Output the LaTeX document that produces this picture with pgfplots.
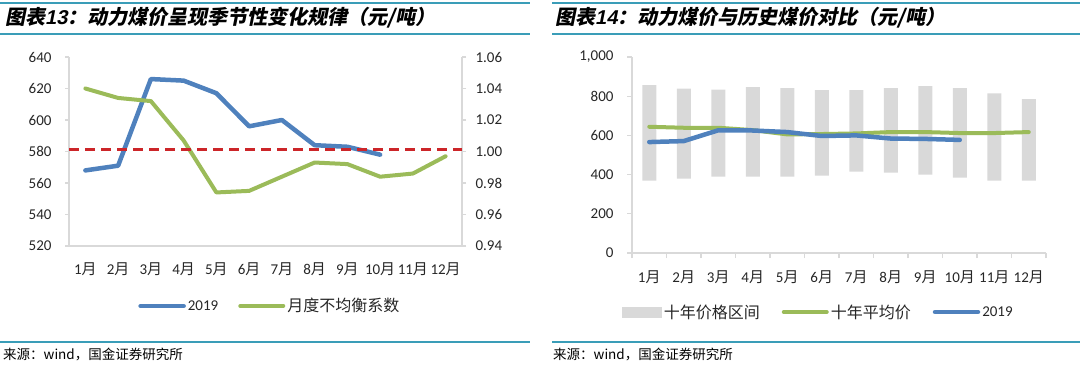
\documentclass[border=0pt]{standalone}
\usepackage{fontspec}
\usepackage{pgfplots}
\usepackage{pgfplotstable}
\pgfplotsset{compat=1.18}
\setmainfont{Carlito}
\newfontfamily\cjk{Noto Sans CJK SC}
\newfontfamily\cjkt[FakeSlant=0.2]{Noto Sans CJK SC}
\newfontfamily\ttl[FakeSlant=0.2]{Liberation Sans}
\newcommand\yue{{\cjk 月}}
\definecolor{cblue}{HTML}{4F81BD}
\definecolor{cgreen}{HTML}{9BBB59}
\definecolor{cred}{HTML}{CC2529}
\definecolor{axgray}{HTML}{D9D9D9}
\definecolor{bargray}{HTML}{D9D9D9}
\definecolor{tealc}{HTML}{3A9DB8}
\definecolor{txt}{HTML}{262626}

\pgfplotstableread{
x low high avg
1 369 856 644
2 380 839 639
3 390 834 639
4 390 846 627
5 390 841 605
6 395 831 607
7 415 831 610
8 410 841 617
9 400 851 617
10 385 841 612
11 369 815 612
12 369 785 617
}\hist

\pgfplotsset{
  common/.style={
    scale only axis, anchor=south west,
    xmin=0.5, xmax=12.5,
    axis line style={axgray, line width=1.5pt, -},
    tick label style={font=\fontsize{15}{18}\selectfont, text=txt},
    /pgf/number format/assume math mode=true,
    major tick length=4pt, tick align=outside,
    tick style={axgray, line width=1.2pt},
    scaled y ticks=false,
    legend columns=-1,
    legend image code/.code={\draw[##1] (0pt,0pt) -- (43pt,0pt);},
  },
}

\begin{document}
\begin{tikzpicture}
\useasboundingbox (0pt,0pt) rectangle (1080pt,368pt);
% frame lines
\draw[tealc, line width=1.5pt] (0pt,365pt) -- (530pt,365pt);
\draw[tealc, line width=1.5pt] (0pt,334pt) -- (530pt,334pt);
\draw[tealc, line width=1.5pt] (0pt,26pt) -- (530pt,26pt);
\draw[tealc, line width=1.5pt] (552pt,365pt) -- (1080pt,365pt);
\draw[tealc, line width=1.5pt] (552pt,334pt) -- (1080pt,334pt);
\draw[tealc, line width=1.5pt] (552pt,26pt) -- (1080pt,26pt);
% titles
\node[anchor=west, inner sep=0pt, text=black] at (5pt,350pt) {\fontsize{20}{24}\selectfont\cjkt\bfseries 图表{\ttl\bfseries 13}：动力煤价呈现季节性变化规律（元/吨）};
\node[anchor=west, inner sep=0pt, text=black] at (555pt,350pt) {\fontsize{20}{24}\selectfont\cjkt\bfseries 图表{\ttl\bfseries 14}：动力煤价与历史煤价对比（元/吨）};
% sources
\node[anchor=west, inner sep=0pt, text=black] at (3pt,14pt) {\fontsize{13.5}{16}\selectfont\cjk 来源：wind，国金证券研究所};
\node[anchor=west, inner sep=0pt, text=black] at (553pt,14pt) {\fontsize{13.5}{16}\selectfont\cjk 来源：wind，国金证券研究所};

% ---------- left chart, left axis ----------
\begin{axis}[common,
  at={(69pt,122pt)}, width=393pt, height=189pt,
  ymin=520, ymax=640, ytick={520,540,...,640},
  axis x line*=bottom, axis y line*=left,
  xtick={1,...,12},
  xticklabels={1\yue,2\yue,3\yue,4\yue,5\yue,6\yue,7\yue,8\yue,9\yue,10\yue,11\yue,12\yue},
  x tick style={draw=none},
  xticklabel style={yshift=-9pt},
  yticklabel style={xshift=-10pt},
]
\addplot[cblue, line width=4.5pt, line join=round, line cap=round] coordinates {
(1,568) (2,571) (3,626) (4,625) (5,617) (6,596) (7,600) (8,584) (9,583) (10,578)};
\end{axis}
% ---------- left chart, right axis ----------
\begin{axis}[common,
  at={(69pt,122pt)}, width=393pt, height=189pt,
  ymin=0.94, ymax=1.06, ytick={0.94,0.96,0.98,1.00,1.02,1.04,1.06},
  axis x line=none, axis y line*=right,
  yticklabel style={/pgf/number format/.cd, fixed, fixed zerofill, precision=2, /tikz/.cd, xshift=6pt},
  legend style={at={(0.511,-0.317)}, anchor=center, draw=none, fill=none,
    font=\fontsize{15}{18}\selectfont, text=txt,
    /tikz/every even column/.append style={column sep=18pt},
    nodes={inner sep=2pt}},
]
\addlegendimage{cblue, line width=4.5pt, line cap=round}
\addlegendentry{2019}
\addplot[cgreen, line width=4pt, line join=round, line cap=round] coordinates {
(1,1.040) (2,1.034) (3,1.032) (4,1.007) (5,0.974) (6,0.975) (7,0.984) (8,0.993) (9,0.992) (10,0.984) (11,0.986) (12,0.997)};
\addlegendentry{\fontsize{16}{18}\selectfont\cjk 月度不均衡系数}
\addplot[cred, line width=3pt, dash pattern=on 10pt off 6pt, forget plot] coordinates {(0.5,1.0013) (12.5,1.0013)};
\end{axis}

% ---------- right chart, bars ----------
\begin{axis}[common,
  at={(632pt,115pt)}, width=414pt, height=196pt,
  ymin=0, ymax=1000, ytick={0,200,...,1000},
  ybar stacked, bar width=14pt,
  axis x line*=bottom, axis y line*=left,
  xtick={0.5,1.5,...,12.5},
  x tick label as interval,
  xticklabels={1\yue,2\yue,3\yue,4\yue,5\yue,6\yue,7\yue,8\yue,9\yue,10\yue,11\yue,12\yue},
  major tick length=5pt,
  xticklabel style={yshift=-9pt},
  yticklabel style={/pgf/number format/.cd, 1000 sep={,}, /tikz/.cd, xshift=-10pt},
]
\addplot[draw=none, fill=none] table[x=x, y=low] {\hist};
\addplot[draw=none, fill=bargray] table[x=x, y expr=\thisrow{high}-\thisrow{low}] {\hist};
\end{axis}
% ---------- right chart, lines ----------
\begin{axis}[common,
  at={(632pt,115pt)}, width=414pt, height=196pt,
  ymin=0, ymax=1000, hide axis,
  legend style={at={(0.4505,-0.301)}, anchor=center, draw=none, fill=none,
    font=\fontsize{15}{18}\selectfont, text=txt,
    /tikz/every even column/.append style={column sep=20pt},
    nodes={inner sep=2pt}},
]
\addlegendimage{legend image code/.code={\fill[bargray] (0pt,-5pt) rectangle (39pt,5pt);}}
\addlegendentry{\fontsize{16}{18}\selectfont\cjk 十年价格区间}
\addplot[cgreen, line width=4pt, line join=round, line cap=round] table[x=x, y=avg] {\hist};
\addlegendentry{\fontsize{16}{18}\selectfont\cjk 十年平均价}
\addplot[cblue, line width=4.5pt, line join=round, line cap=round] coordinates {
(1,566) (2,571) (3,626) (4,625) (5,617) (6,597) (7,600) (8,584) (9,582) (10,577)};
\addlegendentry{2019}
\end{axis}
\end{tikzpicture}
\end{document}
